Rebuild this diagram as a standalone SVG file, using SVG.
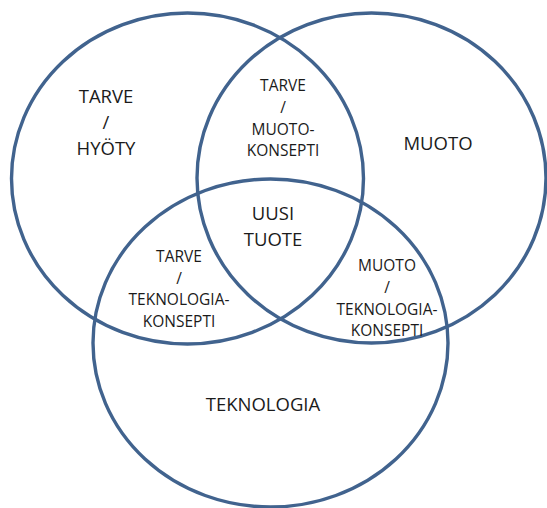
<svg xmlns="http://www.w3.org/2000/svg" width="547" height="508" viewBox="0 0 547 508">
<style>
.ring{fill:none;stroke:#41638e;stroke-width:3.4}
text{font-family:"Open Sans","Liberation Sans",sans-serif;fill:#1b1b1b;text-anchor:middle}
.big{font-size:18.5px}
.small{font-size:15.5px}
</style>
<rect width="547" height="508" fill="#ffffff"/>
<g id="circle-tarve"><ellipse class="ring" cx="187.5" cy="178.5" rx="176" ry="165.5"/></g>
<g id="circle-muoto"><ellipse class="ring" cx="371.5" cy="178" rx="174.5" ry="165"/></g>
<g id="circle-teknologia"><ellipse class="ring" cx="270.5" cy="343" rx="177.5" ry="164"/></g>
<g id="label-tarve-hyoty" class="big">
<text x="106" y="103">TARVE</text>
<text x="106" y="129">/</text>
<text x="106" y="155">HYÖTY</text>
</g>
<g id="label-muoto" class="big"><text x="438" y="150">MUOTO</text></g>
<g id="label-tarve-muotokonsepti" class="small">
<text x="283" y="91">TARVE</text>
<text x="283" y="113">/</text>
<text x="283" y="135">MUOTO-</text>
<text x="283" y="156">KONSEPTI</text>
</g>
<g id="label-uusi-tuote" class="big">
<text x="273" y="220">UUSI</text>
<text x="273" y="246">TUOTE</text>
</g>
<g id="label-tarve-teknologiakonsepti" class="small">
<text x="179" y="262">TARVE</text>
<text x="179" y="284">/</text>
<text x="179" y="305">TEKNOLOGIA-</text>
<text x="179" y="327">KONSEPTI</text>
</g>
<g id="label-muoto-teknologiakonsepti" class="small">
<text x="387" y="271">MUOTO</text>
<text x="387" y="293">/</text>
<text x="387" y="315">TEKNOLOGIA-</text>
<text x="387" y="336">KONSEPTI</text>
</g>
<g id="label-teknologia" class="big"><text x="263" y="411">TEKNOLOGIA</text></g>
<g id="connectors"/>
</svg>
